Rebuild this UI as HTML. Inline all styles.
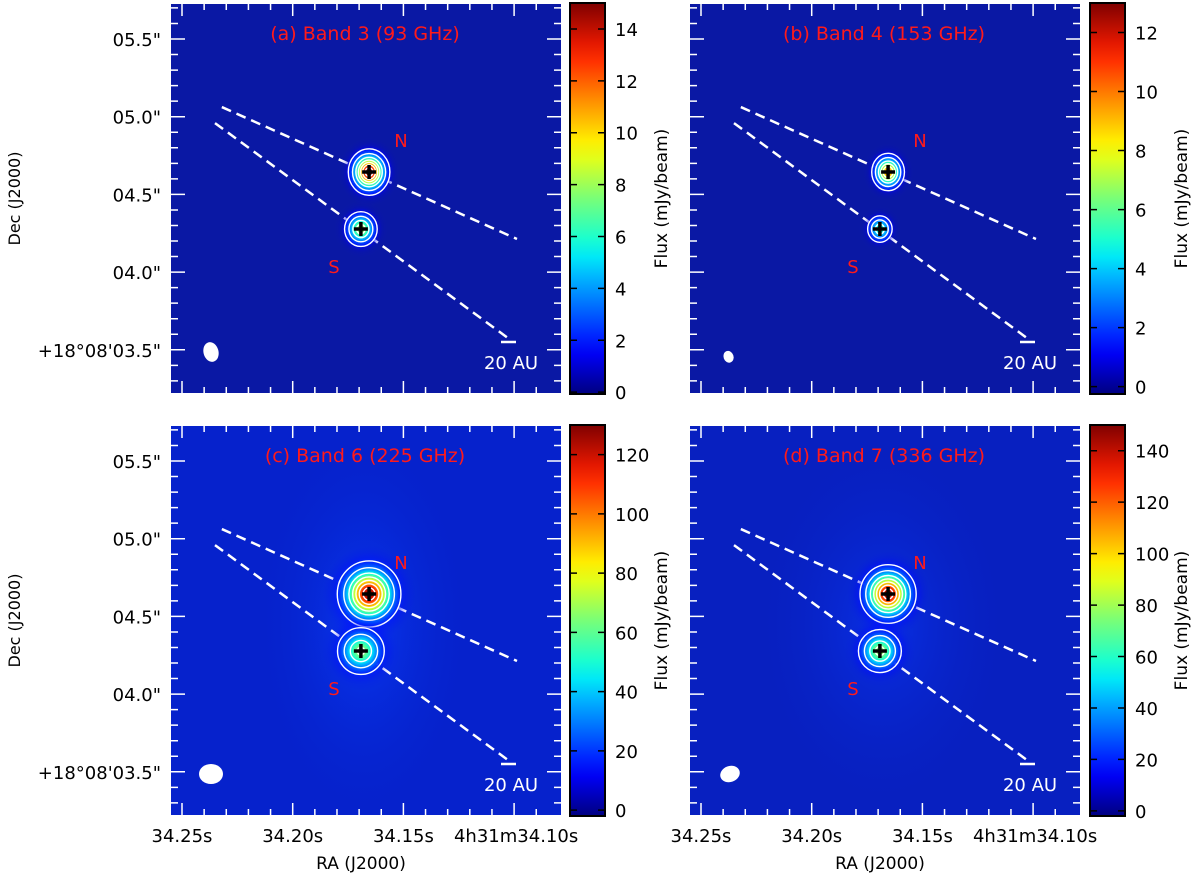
<!DOCTYPE html>
<html><head><meta charset="utf-8"><style>
body{margin:0;background:#fff}
svg text{font-family:"DejaVu Sans","Liberation Sans",sans-serif}
</style></head><body>
<svg id="fig" width="1200" height="875" viewBox="0 0 1200 875" xmlns="http://www.w3.org/2000/svg">
<defs id="defs"></defs>
</svg>
<script>
const panelNames = ['a','b','c','d'];
const panelTitles = ['(a) Band 3 (93 GHz)','(b) Band 4 (153 GHz)','(c) Band 6 (225 GHz)','(d) Band 7 (336 GHz)'];
const cbTicks = [[0,2,4,6,8,10,12,14],[0,2,4,6,8,10,12],[0,20,40,60,80,100,120],[0,20,40,60,80,100,120,140]];
const cbRange = [[-0.07,15],[-0.25,13],[-2,130],[-2,150]];
const peakN = [15,10,130,148];
const peakS = [8,5.2,62,75];
const sigmaN = [[8.5,9.5],[7,8],[13,13.5],[11.5,12]];
const sigmaS = [[7.5,8],[6,6.5],[11,11],[10,10]];
const srcRA = [34.1655,34.1692];
const srcDec = [4.644,4.277];
const raTicks = [34.25,34.20,34.15,34.10];
const raLabels = ['34.25s','34.20s','34.15s','4h31m34.10s'];
const decTicks = [5.5,5.0,4.5,4.0,3.5];
const decLabels = ['05.5"','05.0"','04.5"','04.0"','+18°08\'03.5"'];
const lineUpper = [[34.232,5.062],[34.0987,4.213]];
const lineLower = [[34.2351,4.959],[34.1028,3.576]];
const beams = [[7.5,10,-15],[5,6,-20],[12,10,0],[10,8,-20]];
const bgCol = ['#0a18a4','#0a18a4','#0622cc','#0820c0'];
const bgT = [0.075,0.075,0.1,0.095];

const NS='http://www.w3.org/2000/svg';
const svg=document.getElementById('fig');
const defs=document.getElementById('defs');
function mk(tag,attrs,parent){const e=document.createElementNS(NS,tag);for(const k in attrs)e.setAttribute(k,attrs[k]);(parent||svg).appendChild(e);return e;}
function jet(t){t=Math.max(0,Math.min(1,t));
 const st=[[0,[0,0,128]],[0.11,[0,0,255]],[0.34,[0,220,255]],[0.37,[0,255,230]],[0.5,[120,255,120]],[0.63,[255,255,0]],[0.87,[255,30,0]],[1,[128,0,0]]];
 for(let i=1;i<st.length;i++){if(t<=st[i][0]){const a=st[i-1],b=st[i];const f=(t-a[0])/(b[0]-a[0]);
  return 'rgb('+a[1].map((v,j)=>Math.round(v+(b[1][j]-v)*f)).join(',')+')';}}
 return 'rgb(128,0,0)';}
const W=390,H=389;
const origins=[[171,4],[690,4],[171,426],[690,426]];
const cbX=[570,1090,570,1090];

panelNames.forEach((pn,p)=>{
 const [x0,y0]=origins[p];
 const X=ra=>x0+11+(34.25-ra)/0.05*110.7;
 const Y=d=>y0+35+(5.5-d)/0.5*77.7;
 const g=mk('g',{});
 
 
 const clip=mk('clipPath',{id:'clip'+p},defs);mk('rect',{x:x0,y:y0,width:W,height:H},clip);
 const bg=mk('rect',{x:x0,y:y0,width:W,height:H,fill:bgCol[p]},g);
 
 
 if(p>=2){
  const gg=mk('radialGradient',{id:'glow'+p},defs);
  mk('stop',{offset:'0',"stop-color":p==2?'#0838f4':'#0830e8'},gg);
  mk('stop',{offset:'1',"stop-color":bgCol[p],"stop-opacity":'0'},gg);
  mk('ellipse',{cx:X(34.168),cy:Y(4.45),rx:p==2?110:130,ry:p==2?200:190,fill:'url(#glow'+p+')','clip-path':'url(#clip'+p+')'},g);
 }
 const vmin=cbRange[p][0],vmax=cbRange[p][1];
 [lineUpper,lineLower].forEach((L,i)=>{
  const l=mk('line',{x1:X(L[0][0]),y1:Y(L[0][1]),x2:X(L[1][0]),y2:Y(L[1][1]),stroke:'#fff','stroke-width':2.5,'stroke-dasharray':'10,6'},g);
  
  
 });
 [[peakN[p],sigmaN[p],0],[peakS[p],sigmaS[p],1]].forEach(([pk,sg,si])=>{
  const cx=X(srcRA[si]),cy=Y(srcDec[si]);
  const rg=mk('radialGradient',{id:'src'+p+'_'+si},defs);
  const R=3.6;
  for(let k=0;k<=14;k++){const t=k/14;const r=t*R;
   const v=pk*Math.exp(-r*r/2);
   const tc=bgT[p]+(v/(vmax-vmin))*(1-bgT[p]);
   const op=Math.min(1,v/(0.07*vmax));
   mk('stop',{offset:t,"stop-color":jet(tc),"stop-opacity":k==14?0:op.toFixed(3)},rg);}
  const blob=mk('ellipse',{cx,cy,rx:sg[0]*R,ry:sg[1]*R,fill:'url(#src'+p+'_'+si+')'},g);
  
  
  [0.05,0.15,0.3,0.45,0.6,0.75,0.9].forEach(f=>{const lev=f*vmax;if(lev>=pk*0.95)return;
   const s=Math.sqrt(2*Math.log(pk/lev));
   const c=mk('ellipse',{cx,cy,rx:sg[0]*s,ry:sg[1]*s,fill:'none',stroke:'#fff','stroke-width':1.4},g);
   
   });
  const cr=mk('path',{d:`M${cx-7},${cy}H${cx+7}M${cx},${cy-7}V${cy+7}`,stroke:'#000','stroke-width':3.5},g);
  
  
 });
 const bm=beams[p];
 const be=mk('ellipse',{cx:x0+40+(p==1?-3:0),cy:y0+348+(p==1?4:0),rx:bm[0],ry:bm[1],fill:'#fff',transform:`rotate(${bm[2]} ${x0+40} ${y0+348})`},g);
 
 
 const sb=mk('line',{x1:x0+330,x2:x0+345,y1:y0+338,y2:y0+338,stroke:'#fff','stroke-width':2.5},g);
 
 
 const st=mk('text',{x:x0+340,y:y0+365,fill:'#fff','font-size':18,'text-anchor':'middle'},g);st.textContent='20 AU';
 
 
 const tt=mk('text',{x:x0+194,y:y0+36,fill:'#ff1a1a','font-size':19,'text-anchor':'middle'},g);tt.textContent=panelTitles[p];
 
 
 const nl=mk('text',{x:x0+230,y:y0+143,fill:'#ff1a1a','font-size':18,'text-anchor':'middle'},g);nl.textContent='N';
 
 
 const sl=mk('text',{x:x0+163,y:y0+269,fill:'#ff1a1a','font-size':18,'text-anchor':'middle'},g);sl.textContent='S';
 
 
 let d='';
 for(let i=-1;i<=16;i++){const x=X(34.25-i*0.01);if(x<x0||x>x0+W)continue;const L=(i%5==0)?12:6;d+=`M${x},${y0+H}v${-L}M${x},${y0}v${L}`;}
 for(let i=-2;i<=24;i++){const y=Y(5.5-i*0.1);if(y<y0||y>y0+H)continue;const L=(i%5==0)?14:7;d+=`M${x0},${y}h${L}M${x0+W},${y}h${-L}`;}
 const tk=mk('path',{d,stroke:'#fff','stroke-width':1.5,fill:'none'},g);
 
 
 if(p%2==0){decTicks.forEach((v,i)=>{const t=mk('text',{x:x0-10,y:Y(v)+7,'font-size':18,'text-anchor':'end',fill:'#000'});t.textContent=decLabels[i];
  
  });
  const yt=mk('text',{x:20,y:y0+H/2,'font-size':16,'text-anchor':'middle',transform:`rotate(-90 20 ${y0+H/2})`});yt.textContent='Dec (J2000)';
  
  }
 if(p>=2){raTicks.forEach((v,i)=>{const t=mk('text',{x:X(v)+(i==3?2:0),y:y0+H+27,'font-size':18,'text-anchor':'middle'});t.textContent=raLabels[i];
  
  });
  const xt=mk('text',{x:x0+190,y:y0+H+54,'font-size':17,'text-anchor':'middle'});xt.textContent='RA (J2000)';
  
  }
 const cx=cbX[p];
 const lg=mk('linearGradient',{id:'cb'+p,x1:0,y1:1,x2:0,y2:0},defs);
 for(let k=0;k<=20;k++)mk('stop',{offset:k/20,'stop-color':jet(k/20)},lg);
 const cbg=mk('g',{});
 
 
 mk('rect',{x:cx,y:y0-1,width:35,height:H+2,fill:'url(#cb'+p+')',stroke:'#000','stroke-width':2},cbg);
 const CY=v=>y0-1+(vmax-v)/(vmax-vmin)*(H+2);
 cbTicks[p].forEach(v=>{const y=CY(v);
  mk('path',{d:`M${cx},${y}h7M${cx+35},${y}h-7`,stroke:'#000','stroke-width':1.5},cbg);
  const t=mk('text',{x:cx+45,y:y+7,'font-size':18},cbg);t.textContent=v;
  
  });
 const lx=cx+97;
 const cl=mk('text',{x:lx,y:y0+H/2,'font-size':17,'text-anchor':'middle',transform:`rotate(-90 ${lx} ${y0+H/2})`},cbg);cl.textContent='Flux (mJy/beam)';
 
 
});
</script>
</body></html>
